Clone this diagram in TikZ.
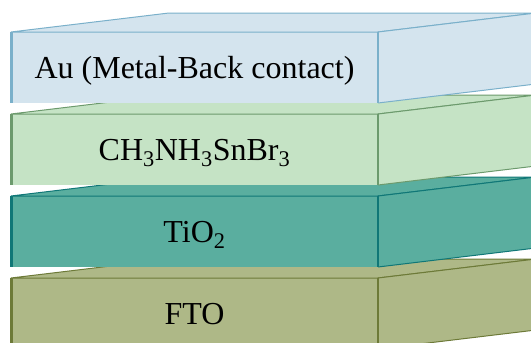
\documentclass[tikz,border=0pt]{standalone}
\usepackage{fontspec}
\setmainfont{Liberation Serif}
\definecolor{auFill}{HTML}{D4E4EE}
\definecolor{auLine}{HTML}{7AB0CA}
\definecolor{perovFill}{HTML}{C5E3C5}
\definecolor{perovLine}{HTML}{6C9A6D}
\definecolor{tioFill}{HTML}{5AAE9F}
\definecolor{tioLine}{HTML}{107777}
\definecolor{ftoFill}{HTML}{AEB887}
\definecolor{ftoLine}{HTML}{6D7A38}
\begin{document}
\begin{tikzpicture}[x={(1pt,0pt)},y={(0pt,-1pt)},every node/.style={inner sep=0pt, outer sep=0pt, font=\fontsize{32}{38}\selectfont},
  slabfront/.style={minimum width=367pt, minimum height=71pt, anchor=north west}]
\useasboundingbox (0,0) rectangle (531,343);
\clip (0,0) rectangle (531,343);
% layers from bottom to top
\foreach \y/\nm/\txt in {278/fto/FTO, 196/tio/TiO\textsubscript{2}, 114/perov/CH\textsubscript{3}NH\textsubscript{3}SnBr\textsubscript{3}, 32/au/Au (Metal-Back contact)} {
  \node[slabfront, fill=\nm Fill] (\nm) at (11,\y) {};
  \filldraw[fill=\nm Fill, draw=\nm Line, line width=1pt] (\nm.north west) -- ++(158,-19) -- ++(367,0) -- (\nm.north east) -- cycle;
  \fill[\nm Fill] (\nm.north east) -- ++(158,-19) -- ++(0,71) -- (\nm.south east) -- cycle;
  \draw[\nm Line, line width=1pt] (\nm.north east) -- ++(158,-19);
  \draw[\nm Line, line width=1pt] (\nm.south east) -- ++(158,-19);
  \draw[\nm Line, line width=3pt] (\nm.north west) -- (\nm.south west);
  \draw[\nm Line, line width=2.5pt] (\nm.north east) -- (\nm.south east);
  \node[anchor=base] (\nm-label) at ([yshift=-10.5pt]\nm.center) {\txt};
}
\end{tikzpicture}
\end{document}
